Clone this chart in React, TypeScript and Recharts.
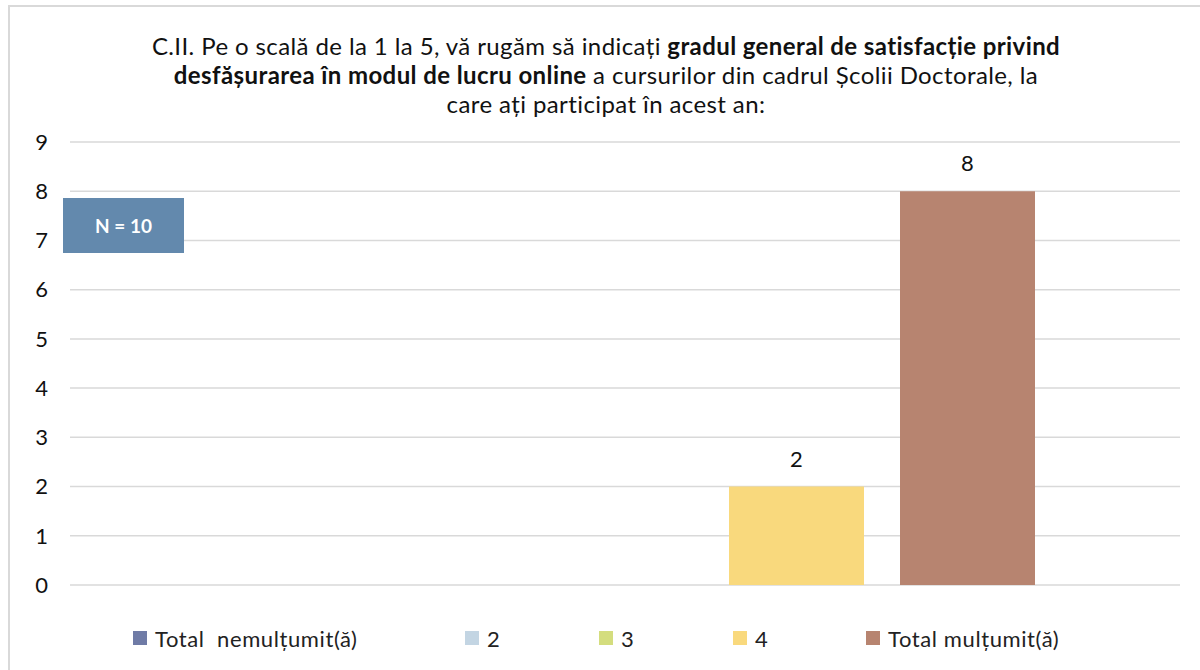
import { BarChart, Bar, XAxis, YAxis, CartesianGrid, Legend, LabelList } from 'recharts';

// Serii (răspunsuri pe scala 1-5) și valorile lor
const SERIES_NAMES = ['Total  nemulțumit(ă)', '2', '3', '4', 'Total mulțumit(ă)'];
const SERIES_VALUES = [0, 0, 0, 2, 8];
const SERIES_COLORS = ['#6F7BA6', '#C3D5E3', '#D4DD7E', '#F9D97D', '#B78470'];
const Y_TICKS = [0, 1, 2, 3, 4, 5, 6, 7, 8, 9];
const CATEGORY = ['Satisfacție'];

const FONT = 'Lato, "Open Sans", sans-serif';

// un singur rând, câte o cheie pentru fiecare serie
const data = CATEGORY.map((cat) => {
  const row: Record<string, any> = { cat };
  SERIES_NAMES.forEach((_, i) => {
    row[`s${i}`] = SERIES_VALUES[i];
  });
  return row;
});

// eticheta doar pentru valorile nenule
const ValueLabel = (props: any) => {
  const { x, y, width, value } = props;
  if (!value) return null;
  return (
    <text
      x={x + width / 2}
      y={y - 20}
      textAnchor="middle"
      fill="#111"
      fontSize={22}
      fontFamily={FONT}
    >
      {value}
    </text>
  );
};

const LEGEND_WIDTHS = [332, 134, 134, 133, 260];

const CustomLegend = () => (
  <div
    style={{
      display: 'flex',
      height: 26,
      alignItems: 'center',
      fontFamily: FONT,
      fontSize: 22,
      letterSpacing: 0.6,
      color: '#222',
    }}
  >
    {SERIES_NAMES.map((name, i) => (
      <div key={name} style={{ width: LEGEND_WIDTHS[i], display: 'flex', alignItems: 'center', whiteSpace: 'pre' }}>
        <span style={{ width: 14, height: 14, background: SERIES_COLORS[i], marginRight: 8, display: 'inline-block' }} />
        <span>{name}</span>
      </div>
    ))}
  </div>
);

export default function App() {
  return (
    <div style={{ position: 'fixed', left: 0, top: 0, width: 1200, height: 670, background: '#fff', overflow: 'hidden' }}>
      <div
        style={{
          position: 'absolute',
          left: 8,
          top: 5,
          width: 1200,
          height: 680,
          borderLeft: '2px solid #D9D9D9',
          borderTop: '2px solid #D9D9D9',
          boxSizing: 'border-box',
        }}
      />
      <div
        style={{
          position: 'absolute',
          left: 56,
          top: 31,
          width: 1100,
          textAlign: 'center',
          fontFamily: FONT,
          fontSize: 24,
          letterSpacing: 0.4,
          lineHeight: '29px',
          color: '#111',
        }}
      >
        C.II. Pe o scală de la 1 la 5, vă rugăm să indicați <b>gradul general de satisfacție privind</b>
        <br />
        <b>desfășurarea în modul de lucru online</b> a cursurilor din cadrul Școlii Doctorale, la
        <br />
        care ați participat în acest an:
      </div>
      <div style={{ position: 'absolute', left: 0, top: 0 }}>
        <BarChart
          width={1200}
          height={670}
          data={data}
          margin={{ top: 142, right: 20, bottom: 59, left: 0 }}
          barSize={135}
          barGap={36}
        >
          <CartesianGrid vertical={false} stroke="#D9D9D9" strokeWidth={1.5} />
          <XAxis dataKey="cat" hide />
          <YAxis
            width={70}
            domain={[0, 9]}
            ticks={Y_TICKS}
            interval={0}
            axisLine={false}
            tickLine={false}
            tickMargin={16}
            tick={{ fill: '#111', fontSize: 22, fontFamily: FONT }}
          />
          <Legend content={<CustomLegend />} wrapperStyle={{ top: 625, left: 133, width: 1060 }} />
          {SERIES_NAMES.map((name, i) => (
            <Bar key={name} dataKey={`s${i}`} name={name} fill={SERIES_COLORS[i]} isAnimationActive={false}>
              <LabelList dataKey={`s${i}`} content={<ValueLabel />} />
            </Bar>
          ))}
        </BarChart>
      </div>
      <div
        style={{
          position: 'absolute',
          left: 63,
          top: 198,
          width: 121,
          height: 55,
          background: '#6389AD',
          color: '#fff',
          fontFamily: FONT,
          fontWeight: 700,
          fontSize: 19,
          display: 'flex',
          alignItems: 'center',
          justifyContent: 'center',
        }}
      >
        N = 10
      </div>
    </div>
  );
}
